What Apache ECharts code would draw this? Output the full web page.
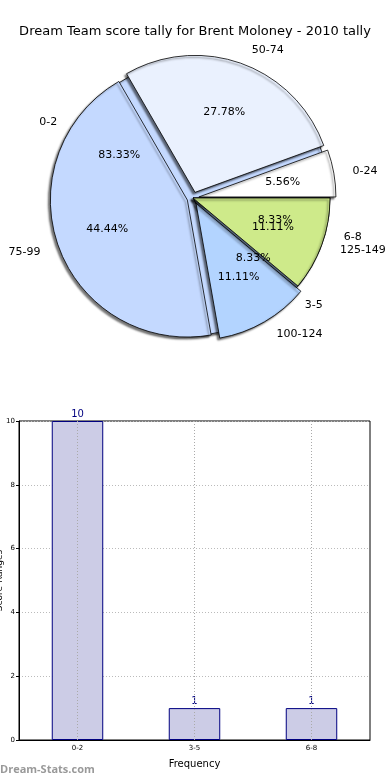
<!DOCTYPE html>
<html><head><meta charset="utf-8">
<script src="https://cdn.jsdelivr.net/npm/echarts@6/dist/echarts.min.js"></script>
<style>html,body{margin:0;padding:0;background:#fff}#c{width:390px;height:780px}</style>
</head><body><div id="c"></div>
<script>
const titleText = 'Dream Team score tally for Brent Moloney - 2010 tally';
const freqCats = ['0-2', '3-5', '6-8'];
const freqVals = [10, 1, 1];
const freqColors = ['#c4d9ff', '#b3d4ff', '#ceea8a'];
const scoreCats = ['0-24', '50-74', '75-99', '100-124', '125-149'];
const scoreVals = [1, 5, 8, 2, 2];
const scoreColors = ['#ffffff', '#eaf1fe', '#c4d9ff', '#b3d4ff', '#ceea8a'];
const scoreExploded = [true, true, true, true, false];
const freqExploded = [false, false, false];
const yName = 'Score Ranges';
const xName = 'Frequency';

const chart = echarts.init(document.getElementById('c'));
const FONT = 'DejaVu Sans';
const C = [193, 198];
const R = 137;
const OFF = 6;
const shadow = {shadowBlur: 2, shadowColor: 'rgba(0,0,0,0.55)', shadowOffsetX: -2, shadowOffsetY: 2};

function pieBase(cats, vals, colors, exploded, z) {
  return {
    type: 'pie', center: C, radius: [0, R], startAngle: 0, clockwise: false, z: z,
    selectedMode: 'multiple', selectedOffset: OFF, animation: false, silent: true,
    avoidLabelOverlap: false,
    label: {show: true, position: 'outside', formatter: '{b}', fontFamily: FONT, fontSize: 11, color: '#000'},
    labelLine: {show: false, length: 14, length2: 0},
    emphasis: {disabled: true},
    data: cats.map((c, i) => ({name: c, value: vals[i], selected: exploded[i],
      itemStyle: Object.assign({color: colors[i], borderColor: '#000', borderWidth: 0.8}, shadow)}))
  };
}
function pieLabels(cats, vals, exploded, z) {
  const total = vals.reduce((a, b) => a + b, 0);
  return {
    type: 'pie', center: C, radius: [0, R * 1.2], startAngle: 0, clockwise: false, z: z,
    selectedMode: 'multiple', selectedOffset: OFF, animation: false, silent: true,
    minShowLabelAngle: 0, avoidLabelOverlap: false,
    labelLayout: {hideOverlap: false},
    label: {show: true, position: 'inner', fontFamily: FONT, fontSize: 11, color: '#000',
      formatter: p => (p.value / total * 100).toFixed(2) + '%'},
    labelLine: {show: false},
    emphasis: {disabled: true},
    itemStyle: {color: 'rgba(0,0,0,0)', borderWidth: 0},
    data: cats.map((c, i) => ({name: c, value: vals[i], selected: exploded[i]}))
  };
}

chart.setOption({
  animation: false,
  title: {text: titleText, left: 'center', top: 20, textStyle: {fontFamily: FONT, fontSize: 13, fontWeight: 'normal', color: '#000'}},
  graphic: [{type: 'text', left: 0, top: 764, style: {text: 'Dream-Stats.com', fill: '#999', font: 'bold 11px "Open Sans", "DejaVu Sans"'}}],
  grid: {left: 19, right: 20, top: 421, bottom: 40, show: true, borderColor: '#000', borderWidth: 1, outerBoundsMode: 'none', containLabel: false},
  xAxis: {type: 'category', data: freqCats, name: xName, nameLocation: 'middle', nameGap: 19,
    nameTextStyle: {fontFamily: FONT, fontSize: 10, color: '#000'},
    axisLine: {lineStyle: {color: '#000'}}, axisTick: {show: false},
    axisLabel: {fontFamily: FONT, fontSize: 7, color: '#000', margin: 5}},
  yAxis: {type: 'value', min: 0, max: 10, interval: 2, name: yName, nameLocation: 'middle', nameGap: 15,
    nameMoveOverlap: false,
    nameTextStyle: {fontFamily: FONT, fontSize: 9, color: '#000'},
    axisLine: {show: true, lineStyle: {color: '#000'}}, axisTick: {show: true, length: 3, lineStyle: {color: '#000'}},
    axisLabel: {fontFamily: FONT, fontSize: 7, color: '#000', margin: 4},
    splitLine: {show: true, lineStyle: {color: '#bbb', type: [1, 2]}}},
  series: [
    pieBase(freqCats, freqVals, freqColors, freqExploded, 1),
    pieBase(scoreCats, scoreVals, scoreColors, scoreExploded, 2),
    pieLabels(freqCats, freqVals, freqExploded, 3),
    pieLabels(scoreCats, scoreVals, scoreExploded, 3),
    {type: 'bar', data: freqVals, barWidth: '44%', z: 2,
      itemStyle: {color: '#ccccE6', borderColor: '#000080', borderWidth: 1},
      label: {show: true, position: 'top', color: '#000080', fontFamily: FONT, fontSize: 10, distance: 2},
      emphasis: {disabled: true},
      markLine: {silent: true, symbol: 'none', label: {show: false}, animation: false,
        lineStyle: {color: '#aaa', type: [1, 2], width: 1},
        data: freqCats.map(c => ({xAxis: c}))}}
  ]
});
</script></body></html>
